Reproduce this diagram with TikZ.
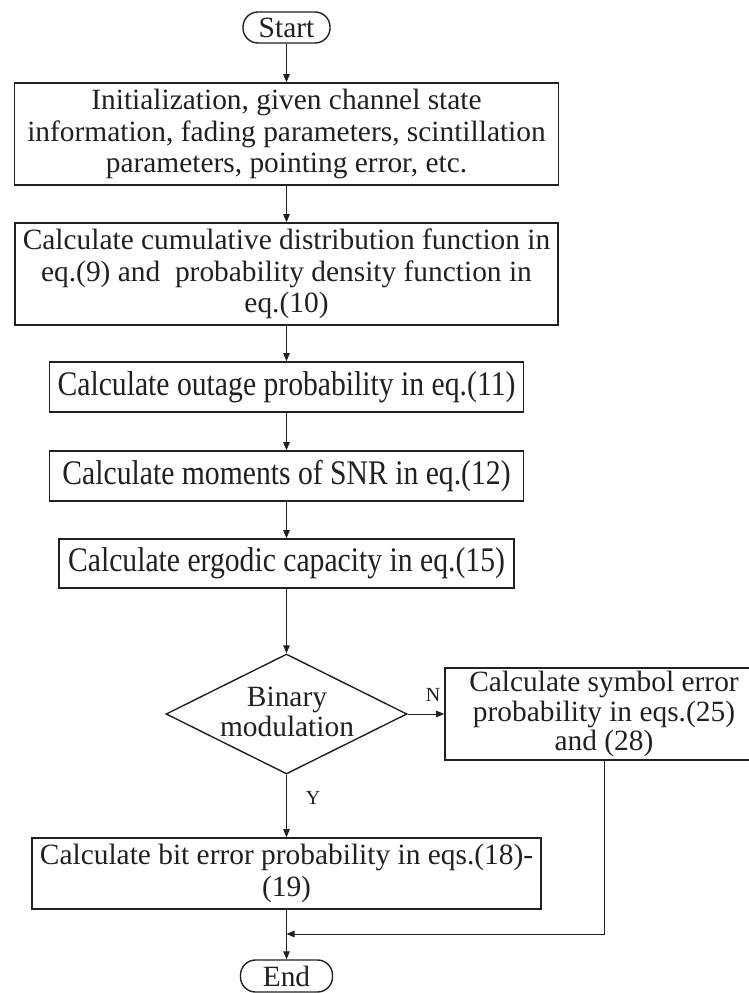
\documentclass[tikz,border=0pt]{standalone}
\usepackage{fontspec}
\setmainfont{Liberation Serif}
\newfontfamily\tallfont[FakeStretch=0.86]{Liberation Serif}
\usetikzlibrary{shapes.geometric, arrows.meta}
\definecolor{ink}{RGB}{35,31,32}
\newcommand{\mainsz}{\fontsize{29.4}{31.5}\selectfont}
\newcommand{\tallsz}{\tallfont\fontsize{34.5}{36}\selectfont}
\newcommand{\tightsz}{\fontsize{29.4}{29.5}\selectfont}
\newcommand{\labsz}{\fontsize{20}{22}\selectfont}

\begin{document}
\begin{tikzpicture}[x=1pt, y=-1pt,
  every node/.style={text=ink},
  box/.style={draw=ink, line width=1.6pt, inner sep=0pt, align=center, font=\mainsz},
  tallbox/.style={box, font=\tallsz},
  term/.style={draw=ink, line width=1.4pt, rounded corners=15pt, inner sep=0pt, font=\mainsz},
  decision/.style={draw=ink, line width=1.4pt, diamond, inner sep=0pt, aspect=2},
  flow/.style={draw=ink, line width=0.9pt, -{Triangle[length=8pt,width=6.5pt]}},
  yn/.style={font=\labsz, inner sep=0pt}]
\useasboundingbox (0,0) rectangle (749,993);
\clip (0,0) rectangle (749,993);

% main column
\node[term, minimum width=87pt, minimum height=31pt] (start) at (286.5,27.5) {Start};
\node[box, minimum width=544pt, minimum height=102pt] (init) at (286.5,134)
  {Initialization, given channel state\\information, fading parameters, scintillation\\parameters, pointing error, etc.};
\node[box, minimum width=543pt, minimum height=102pt] (cdf) at (286.5,274)
  {Calculate cumulative distribution function in\\eq.(9) and\ \ probability density function in\\eq.(10)};
\node[tallbox, minimum width=474pt, minimum height=50pt] (outage) at (286.5,387)
  {Calculate outage probability in eq.(11)};
\node[tallbox, minimum width=474pt, minimum height=50pt] (moments) at (286.5,476)
  {Calculate moments of SNR in eq.(12)};
\node[tallbox, minimum width=455pt, minimum height=49pt] (ergodic) at (286.5,563.5)
  {Calculate ergodic capacity in eq.(15)};

% decision
\node[decision, minimum width=241pt, minimum height=120pt] (dec) at (286.5,714) {};
\node[font=\fontsize{29.4}{30}\selectfont, align=center, inner sep=0pt] (dectext) at (287,712) {Binary\\modulation};

% branches
\node[box, font=\tightsz, minimum width=318pt, minimum height=92pt] (sym) at (604,714)
  {Calculate symbol error\\probability in eqs.(25)\\and (28)};
\node[box, minimum width=509pt, minimum height=71pt] (bit) at (286.5,873.5)
  {Calculate bit error probability in eqs.(18)-\\(19)};
\node[term, minimum width=92pt, minimum height=32pt] (end) at (286.5,976) {End};

\coordinate (join) at (286.5,934);

% connectors
\draw[flow] (start.south) -- (init.north);
\draw[flow] (init.south) -- (cdf.north);
\draw[flow] (cdf.south) -- (outage.north);
\draw[flow] (outage.south) -- (moments.north);
\draw[flow] (moments.south) -- (ergodic.north);
\draw[flow] (ergodic.south) -- (dec.north);
\draw[flow] (dec.east) -- (sym.west);
\draw[flow] (dec.south) -- (bit.north);
\draw[flow] (bit.south) -- (end.north);
\draw[flow] (sym.south) |- (join);

% branch labels
\node[yn] (nlab) at (433,695) {N};
\node[yn] (ylab) at (313,798) {Y};
\end{tikzpicture}
\end{document}
